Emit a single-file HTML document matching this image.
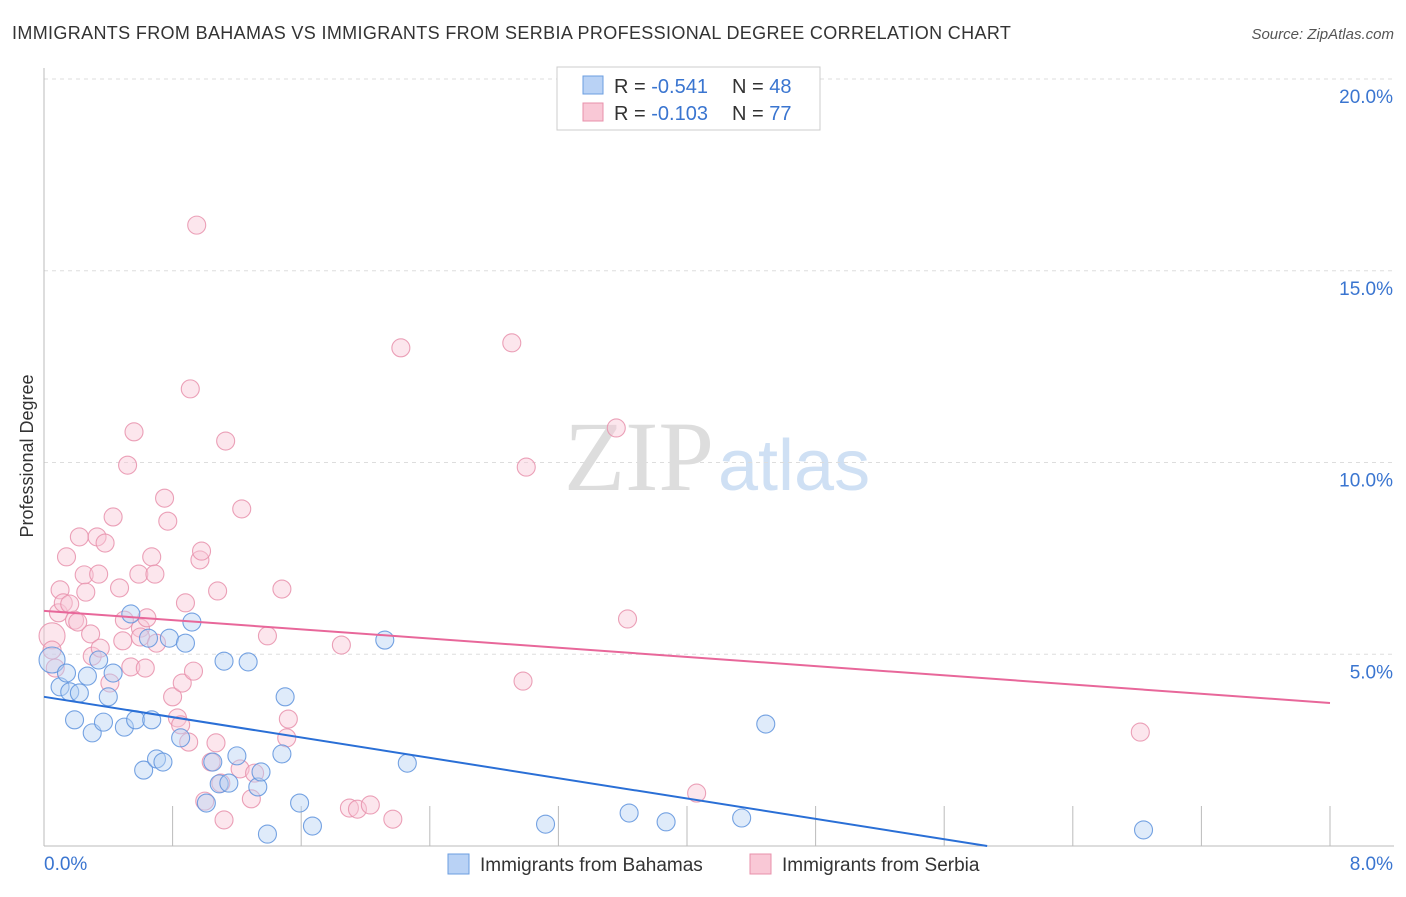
<!DOCTYPE html>
<html><head><meta charset="utf-8"><style>
body{margin:0;background:#fff;font-family:"Liberation Sans",sans-serif}
</style></head><body>
<svg width="1406" height="892" xmlns="http://www.w3.org/2000/svg" id="svg">
<text x="12" y="39" font-size="18" fill="#333" letter-spacing="0.35">IMMIGRANTS FROM BAHAMAS VS IMMIGRANTS FROM SERBIA PROFESSIONAL DEGREE CORRELATION CHART</text>
<text x="1394" y="39" font-size="15" fill="#555" font-style="italic" text-anchor="end">Source: ZipAtlas.com</text>
<text x="714" y="490" font-size="100" fill="#ddd" text-anchor="end" font-family="Liberation Serif">ZIP</text>
<text x="718" y="490" font-size="72" fill="#cfe0f4">atlas</text>
<text transform="translate(33,456) rotate(-90)" font-size="18" fill="#333" text-anchor="middle">Professional Degree</text>
<g id="grid"></g><g id="marks"></g>
<g>
<rect x="557" y="67" width="263" height="63" fill="#fff" stroke="#ccc"/>
<rect x="583" y="76" width="20" height="18" fill="#b9d2f5" stroke="#6b9ee0"/>
<rect x="583" y="103" width="20" height="18" fill="#f9c8d6" stroke="#e890ab"/>
<text x="614" y="93" font-size="20" fill="#333">R = <tspan fill="#3a75d0">-0.541</tspan></text>
<text x="732" y="93" font-size="20" fill="#333">N = <tspan fill="#3a75d0">48</tspan></text>
<text x="614" y="120" font-size="20" fill="#333">R = <tspan fill="#3a75d0">-0.103</tspan></text>
<text x="732" y="120" font-size="20" fill="#333">N = <tspan fill="#3a75d0">77</tspan></text>
</g>
<g>
<rect x="448" y="854" width="21" height="20" fill="#b9d2f5" stroke="#6b9ee0"/>
<text x="480" y="871" font-size="19" fill="#333">Immigrants from Bahamas</text>
<rect x="750" y="854" width="21" height="20" fill="#f9c8d6" stroke="#e890ab"/>
<text x="782" y="871" font-size="19" fill="#333">Immigrants from Serbia</text>
</g>
</svg>
<script>
const yTicks=[5,10,15,20];
const yTickLabels=["5.0%","10.0%","15.0%","20.0%"];
const xTicks=[0,0.8,1.6,2.4,3.2,4.0,4.8,5.6,6.4,7.2,8.0];
const bahamasX=[0.05,0.10,0.14,0.16,0.22,0.27,0.19,0.30,0.34,0.37,0.40,0.43,0.50,0.54,0.57,0.62,0.65,0.67,0.70,0.74,0.78,0.85,0.88,0.92,1.01,1.05,1.09,1.12,1.15,1.20,1.27,1.33,1.35,1.39,1.48,1.50,1.59,1.67,2.12,2.26,3.12,3.64,3.87,4.34,4.49,6.84];
const bahamasY=[4.85,4.15,4.51,4.02,3.99,4.43,3.29,2.95,4.85,3.23,3.89,4.51,3.10,6.05,3.29,1.98,5.42,3.29,2.27,2.19,5.42,2.82,5.29,5.84,1.12,2.19,1.62,4.82,1.64,2.35,4.80,1.54,1.93,0.31,2.40,3.89,1.12,0.52,5.37,2.16,0.57,0.86,0.63,0.73,3.18,0.42];
const serbiaX=[0.05,0.05,0.07,0.09,0.10,0.12,0.14,0.16,0.19,0.21,0.22,0.25,0.26,0.29,0.30,0.33,0.35,0.34,0.38,0.41,0.43,0.47,0.49,0.50,0.52,0.54,0.56,0.59,0.60,0.60,0.63,0.64,0.67,0.69,0.70,0.75,0.77,0.80,0.83,0.85,0.86,0.88,0.90,0.91,0.93,0.95,0.97,0.98,1.00,1.04,1.07,1.08,1.10,1.12,1.13,1.22,1.23,1.29,1.31,1.39,1.48,1.51,1.52,1.85,1.90,1.95,2.03,2.17,2.22,2.91,2.98,3.00,3.56,3.63,4.06,6.82];
const serbiaY=[5.48,5.11,4.64,6.08,6.68,6.34,7.54,6.31,5.89,5.84,8.06,7.07,6.62,5.53,4.95,8.06,5.16,7.09,7.90,4.25,8.58,6.73,5.35,5.89,9.93,4.67,10.80,7.09,5.68,5.45,4.64,5.95,7.54,7.09,5.29,9.07,8.47,3.89,3.34,3.16,4.25,6.34,2.71,11.92,4.56,16.19,7.46,7.69,1.17,2.19,2.69,6.65,1.64,0.68,10.56,2.01,8.79,1.23,1.90,5.48,6.70,2.82,3.31,5.24,0.99,0.96,1.07,0.70,12.99,13.12,4.30,9.88,10.90,5.92,1.38,2.97];
const bahamasTrend=[3.89,-0.663];
const serbiaTrend=[6.13,-0.30];
const NS="http://www.w3.org/2000/svg";
const X=v=>44+v*160.75, Y=v=>846-v*38.35;
function mk(t,a,p){const e=document.createElementNS(NS,t);for(const k in a)e.setAttribute(k,a[k]);p.appendChild(e);return e;}
const grid=document.getElementById('grid'),marks=document.getElementById('marks');
yTicks.forEach((t,i)=>{
 const l=mk('line',{x1:44,x2:1394,y1:Y(t),y2:Y(t),stroke:'#ddd','stroke-dasharray':'4,4'},grid);
 
 
 const tx=mk('text',{x:1393,y:Y(t)+24,'font-size':19,fill:'#3a75d0','text-anchor':'end'},grid);
 tx.textContent=yTickLabels[i];
 
 
});
const ax=mk('line',{x1:44,x2:44,y1:68,y2:846,stroke:'#bbb'},grid);


const bx=mk('line',{x1:44,x2:1394,y1:846,y2:846,stroke:'#bbb'},grid);


xTicks.forEach(t=>{const l=mk('line',{x1:X(t),x2:X(t),y1:806,y2:846,stroke:'#bbb'},grid);
 
 });
[[0,'0.0%','start',44],[8,'8.0%','end',1393]].forEach(a=>{const t=mk('text',{x:a[3],y:870,'font-size':19,fill:'#3a75d0','text-anchor':a[2]},grid);t.textContent=a[1];
 
 });
function pts(xs,ys,fill,stroke,name){xs.forEach((x,i)=>{const big=i<1;
 const c=mk('circle',{cx:X(x),cy:Y(ys[i]),r:big?13:9,fill:fill,'fill-opacity':0.45,stroke:stroke,'stroke-width':1.1,'stroke-opacity':0.85},marks);
 
 });}
pts(serbiaX,serbiaY,'#f9c8d6','#e890ab','serbia-point');
pts(bahamasX,bahamasY,'#b9d2f5','#5e93dd','bahamas-point');
const bEnd=-bahamasTrend[0]/bahamasTrend[1];
const bl=mk('line',{x1:X(0),y1:Y(bahamasTrend[0]),x2:X(bEnd),y2:Y(0),stroke:'#2a6fd6','stroke-width':2},marks);


const sl=mk('line',{x1:X(0),y1:Y(serbiaTrend[0]),x2:X(8),y2:Y(serbiaTrend[0]+8*serbiaTrend[1]),stroke:'#e8679a','stroke-width':2},marks);


</script>
</body></html>
